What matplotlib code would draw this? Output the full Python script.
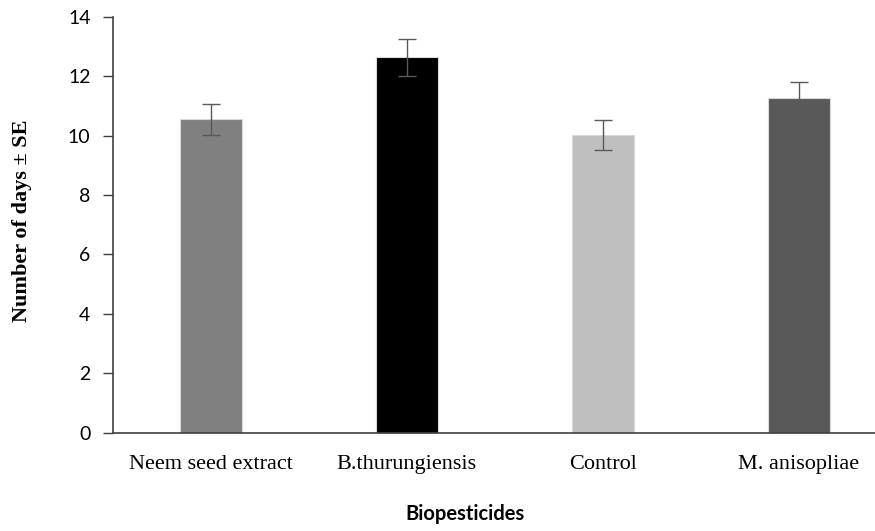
import matplotlib
matplotlib.use("Agg")
import matplotlib.pyplot as plt

categories = ["Neem seed extract", "B.thurungiensis", "Control", "M. anisopliae"]
mean_days = [10.55, 12.64, 10.03, 11.26]
se_days = [0.52, 0.63, 0.50, 0.56]
bar_colors = ["#808080", "#000000", "#bfbfbf", "#595959"]
y_ticks = [0, 2, 4, 6, 8, 10, 12, 14]

fig = plt.figure(figsize=(8.75, 5.31), dpi=100)
# axes extend slightly past the right edge of the canvas
ax = fig.add_axes([112.7 / 875, (531 - 432.5) / 531, (897 - 112.7) / 875, (432.5 - 17) / 531])

x = list(range(len(categories)))
ax.bar(x, mean_days, width=0.315, color=bar_colors, edgecolor="#d9d9d9", linewidth=0.8, zorder=2)
ax.errorbar(x, mean_days, yerr=se_days, fmt="none", ecolor="#595959", elinewidth=1.0,
            capsize=6.5, capthick=1.0, zorder=3)

ax.set_xlim(-0.5, 3.5)
ax.set_ylim(0, 14)
ax.set_yticks(y_ticks)
ax.set_yticklabels([str(t) for t in y_ticks], fontfamily="Lato", fontsize=14)
ax.set_xticks(x)
ax.set_xticklabels(categories, fontfamily="Liberation Serif", fontsize=16)
ax.tick_params(axis="x", length=0, pad=16)
ax.tick_params(axis="y", length=7, width=1, color="#404040", pad=9)

for side in ("top", "right"):
    ax.spines[side].set_visible(False)
for side in ("left", "bottom"):
    ax.spines[side].set_color("#404040")
    ax.spines[side].set_linewidth(1.2)

fig.text(22 / 875, 1 - 221 / 531, "Number of days \u00b1 SE", rotation=90, ha="center", va="center",
         fontfamily="Liberation Serif", fontweight="bold", fontsize=16)
fig.text(465 / 875, 1 - 514 / 531, "Biopesticides", ha="center", va="center",
         fontfamily="Lato", fontweight="bold", fontsize=14.5)

fig.savefig("out.png", dpi=100)
